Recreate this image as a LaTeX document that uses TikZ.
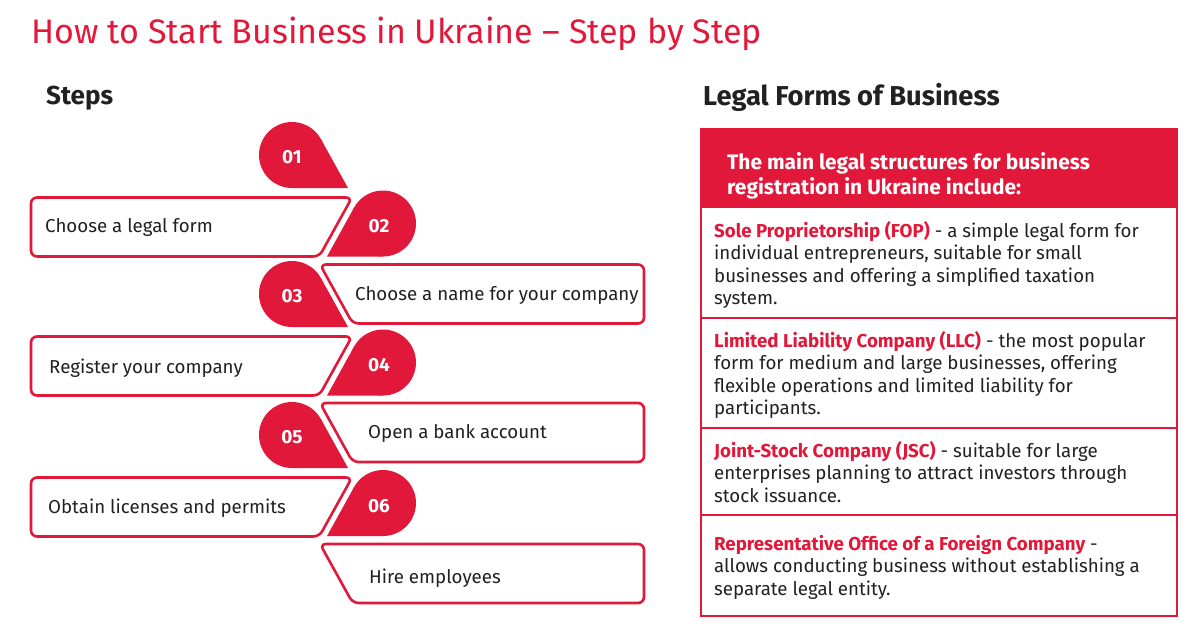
\documentclass[tikz,border=0pt]{standalone}
\usepackage{fontspec}
\setmainfont{Fira Sans}
\definecolor{brand}{RGB}{226,24,58}
\definecolor{ink}{RGB}{33,33,33}
\newcommand{\rt}[1]{\textcolor{brand}{\bfseries #1}}
\begin{document}
\begin{tikzpicture}[x=1pt,y=-1pt,
  stepline/.style={draw=brand,line width=2.6pt,fill=white,rounded corners=6pt},
  numlbl/.style={text=white,font=\fontsize{19}{21}\selectfont\bfseries,inner sep=0pt},
  steptext/.style={text=ink,font=\fontsize{18.7}{20}\selectfont,anchor=base west,inner sep=0pt},
  rowtext/.style={text=ink,font=\fontsize{18.7}{22.5}\selectfont,anchor=north west,inner sep=0pt,align=left},
  headtext/.style={text=white,font=\fontsize{20.9}{24.5}\selectfont\bfseries,anchor=north west,inner sep=0pt,align=left},
  sectitle/.style={text=ink,font=\fontsize{27.3}{30}\selectfont\bfseries,anchor=base west,inner sep=0pt},
  sepline/.style={draw=brand,line width=1.3pt}
]
\useasboundingbox (0,0) rectangle (1200,634);
\fill[white] (0,0) rectangle (1200,634);

% title
\node[text=brand,font=\fontsize{34}{40}\selectfont,anchor=base west,inner sep=0pt] (title) at (31,43.5) {How to Start Business in Ukraine – Step by Step};
\node[sectitle,font=\fontsize{26}{30}\selectfont\bfseries] (steps) at (46,104.5) {Steps};
\node[sectitle] (legal) at (703,106) {Legal Forms of Business};

% step boxes
\foreach \i/\t in {1/197.5,3/336.5,5/477.5}{
  \draw[stepline] (180,\t) -- (31,\t) -- (31,\t+59) -- (319.3,\t+59) -- (352,\t) -- cycle;
}
\foreach \i/\t in {2/264.5,4/403,6/544}{
  \draw[stepline] (480,\t) -- (644,\t) -- (644,\t+59) -- (352.7,\t+59) -- (320,\t) -- cycle;
}
\node[steptext] (s1) at (45,232.5) {Choose a legal form};
\node[steptext] (s2) at (355,300) {Choose a name for your company};
\node[steptext] (s3) at (49,373.5) {Register your company};
\node[steptext] (s4) at (368,438) {Open a bank account};
\node[steptext] (s5) at (48,513) {Obtain licenses and permits};
\node[steptext] (s6) at (369,583) {Hire employees};

% drops
\foreach \i/\cx/\bt/\sd in {1/292/188/1,2/383/256.5/-1,3/292/327/1,4/383/395.5/-1,5/292/468/1,6/383/536/-1}{
  \pgfmathsetmacro\cy{\bt-33}
  \fill[brand] (\cx,\cy) circle[radius=33pt];
  \fill[brand] (\cx+\sd*56,\bt) -- (\cx+\sd*28.87,\cy-15.99) -- (\cx,\cy) -- (\cx,\bt) -- cycle;
  \pgfmathsetmacro\lx{\cx+(\sd-1)*2}
  \pgfmathsetmacro\ly{\cy+2-(\sd-1)*0.5}
  \node[numlbl] (d\i) at (\lx,\ly) {0\i};
}

% right panel
\fill[brand] (701,129) rectangle (1177,208);
\draw[sepline] (701,129) rectangle (1177,616);
\draw[sepline] (701,318) -- (1177,318);
\draw[sepline] (701,428) -- (1177,428);
\draw[sepline] (701,515) -- (1177,515);

\node[headtext] (head) at (727,152.2) {\strut The main legal structures for business\\registration in Ukraine include:};
\node[rowtext] (r1) at (714,220.9) {\strut\rt{Sole Proprietorship (FOP)} - a simple legal form for\\individual entrepreneurs, suitable for small\\businesses and offering a simplified taxation\\system.};
\node[rowtext] (r2) at (714,330.9) {\strut\rt{Limited Liability Company (LLC)} - the most popular\\form for medium and large businesses, offering\\flexible operations and limited liability for\\participants.};
\node[rowtext] (r3) at (714,440.9) {\strut\rt{Joint-Stock Company (JSC)} - suitable for large\\enterprises planning to attract investors through\\stock issuance.};
\node[rowtext] (r4) at (714,534.2) {\strut\rt{Representative Office of a Foreign Company} -\\allows conducting business without establishing a\\separate legal entity.};
\end{tikzpicture}
\end{document}
